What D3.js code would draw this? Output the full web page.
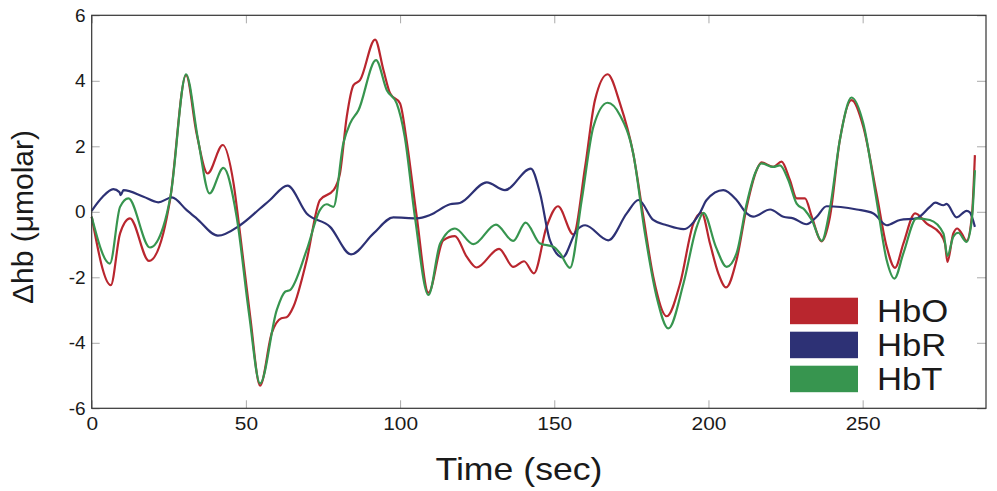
<!DOCTYPE html>
<html>
<head>
<meta charset="utf-8" />
<title>Hemoglobin change</title>
<style>
body { margin: 0; background: #fff; }
svg text { font-family: "Liberation Sans", Arial, sans-serif; fill: #1a1a1a; }
</style>
</head>
<body>
<script src="https://d3js.org/d3.v7.min.js"></script>
<script>
var width = 997,
    height = 491;

// series, [time (sec), value (umolar)]
var hbo = [[0,-0.15],[6.2,-2.24],[9.2,-0.66],[12.4,-0.2],[18.6,-1.5],[23.2,-0.66],[25.4,0.36],[30.6,4.17],[34,2.4],
  [37.6,1.17],[42.5,2.04],[46,0.87],[48.1,-0.66],[51.4,-3.2],[54.6,-5.31],[58.4,-3.7],[61.5,-3.25],[63.2,-3.22],
  [65.4,-2.9],[69.7,-1.48],[74,0.36],[78.4,0.66],[80.5,1.17],[82.7,2.9],[84.9,3.87],[87,4.02],[91.9,5.26],[94.6,4.33],
  [96.8,3.61],[100,3.31],[102.1,2.19],[105.4,-0.15],[109.2,-2.47],[114,-0.87],[117.8,-0.74],[121.6,-1.37],[124.8,-1.7],
  [132.1,-1.13],[136.7,-1.68],[140.2,-1.51],[143.4,-1.88],[147.5,-0.46],[151.2,0.17],[156.2,-0.69],[160,1.37],
  [163.2,3.41],[167.3,4.2],[171.3,3.31],[175.6,1.78],[178.9,-0.15],[182.1,-1.98],[186.5,-3.19],[190.8,-2.19],
  [195.1,-0.36],[197.8,-0.03],[200.5,-0.97],[203.2,-1.88],[205.7,-2.31],[209.1,-1.48],[212.4,0.15],[215.6,1.27],
  [217.2,1.51],[221,1.37],[223.7,1.53],[226.4,0.97],[228.6,0.41],[231.3,0.41],[233.5,-0.15],[236.7,-0.9],[239.4,-0.15],
  [242.6,2.19],[246.4,3.41],[250.2,2.6],[254.5,0.56],[257.8,-1.07],[260.5,-1.71],[263.2,-0.97],[267,-0.05],[270.8,-0.36],
  [275.1,-0.66],[276.7,-0.97],[277.5,-1.53],[279.4,-0.66],[280.7,-0.51],[282.1,-0.66],[283.7,-0.89],[285.4,-0.15],[286.4,1.73]];

var hbr = [[0,0.03],[3.5,0.45],[7,0.69],[9,0.6],[9.4,0.51],[10.3,0.66],[16.8,0.46],[21.6,0.29],[26,0.44],[30.8,0.05],
  [34,-0.2],[40.9,-0.73],[48.1,-0.41],[54.6,0.1],[57.8,0.36],[63.5,0.8],[69.7,-0.05],[77.3,-0.46],[84.1,-1.3],
  [91.4,-0.66],[97.8,-0.17],[105.4,-0.2],[109.7,-0.1],[116.2,0.23],[119.4,0.27],[128.1,0.9],[134,0.66],[142.4,1.32],
  [145.4,0.56],[148.6,-0.87],[152.7,-1.39],[157.3,-0.56],[160,-0.41],[167.5,-0.87],[173.5,-0.05],[177.3,0.36],
  [182.1,-0.25],[186.5,-0.41],[191.9,-0.53],[197.3,-0.02],[199.4,0.36],[204.8,0.66],[209.1,0.36],[212.4,-0.05],
  [214.5,-0.15],[220,0.07],[224.3,-0.15],[227.5,-0.2],[231.8,-0.38],[235.1,-0.15],[238.3,0.17],[248.1,0.07],
  [253.5,-0.05],[257.8,-0.41],[262.1,-0.25],[267.5,-0.2],[271.8,0.15],[273.5,0.28],[276.2,0.2],[277.2,0.24],
  [280.5,-0.17],[283.7,0.03],[284.8,-0.02],[286.4,-0.46]];

var hbt = [[0,-0.15],[5.9,-1.58],[9.2,0.15],[11.9,0.41],[18.9,-1.09],[23.2,-0.46],[25.6,0.5],[30.6,4.2],[34.5,2.2],
  [38.2,0.56],[42.7,1.34],[47,-0.15],[51,-3.1],[54.6,-5.24],[60,-3.0],[62.7,-2.44],[64.3,-2.39],[69.7,-1.17],
  [74,0.05],[76.2,0.23],[78.4,0.15],[81.6,2.09],[83.8,2.7],[86.5,3.1],[92.2,4.63],[95.7,3.71],[98.9,3.31],
  [101.5,2.3],[104.8,-0.15],[109.2,-2.54],[113,-0.97],[117.8,-0.51],[123.8,-0.99],[131.1,-0.39],[136.7,-0.89],
  [140.7,-0.33],[145.4,-0.97],[149.7,-1.07],[151.9,-1.27],[155.1,-1.71],[158.9,0.36],[162.7,2.6],[167.3,3.33],
  [171.3,2.95],[175.6,1.78],[179.4,-0.66],[183.2,-2.6],[187,-3.56],[191.9,-2.19],[196.2,-0.46],[198.4,-0.03],
  [202.4,-1.07],[205.9,-1.68],[209.1,-1.27],[212.4,0.25],[215.1,1.17],[217.2,1.48],[221,1.37],[223.2,1.42],
  [225.9,0.97],[228.6,0.25],[231.3,0.05],[233.5,-0.25],[236.7,-0.89],[239.4,0.1],[242.6,2.19],[246.4,3.49],
  [250.2,2.7],[254.5,0.36],[257.8,-1.48],[260.3,-2.04],[263.2,-1.27],[267.5,-0.2],[271.8,-0.25],[276.2,-0.66],
  [277.5,-1.35],[279.4,-0.76],[281,-0.64],[283.7,-0.92],[285.4,-0.25],[286.4,1.27]];

var seriesNames = ["HbO", "HbR", "HbT"];
var seriesColors = ["#b9262e", "#2d3175", "#37954f"];
var xTicks = [0, 50, 100, 150, 200, 250];
var yTicks = [-6, -4, -2, 0, 2, 4, 6];

var margin = {left: 91.7, top: 15.3, right: width - 986, bottom: height - 408.3};

var x = d3.scaleLinear().domain([0, 290]).range([margin.left, width - margin.right]);
var y = d3.scaleLinear().domain([-6, 6]).range([height - margin.bottom, margin.top]);

var svg = d3.select("body").append("svg")
  .attr("width", width)
  .attr("height", height);

// plain hyphen minus like the original
var fmt = d => String(d);

// source picture is a bit wider than tall, so horizontal text is stretched
function stretch(sel, k) {
  sel.each(function() {
    var t = d3.select(this);
    var tx = +t.attr("x") || 0;
    t.attr("transform", (t.attr("transform") || "") + " translate(" + tx + ",0) scale(" + k + ",1) translate(" + (-tx) + ",0)");
  });
}

// inward gray ticks, all four sides
var tickColor = "#aaa";
svg.append("g").attr("transform", "translate(0," + y(-6) + ")")
  .call(d3.axisBottom(x).tickValues(xTicks).tickSize(-8).tickPadding(8).tickFormat(fmt))
  .call(g => g.select(".domain").remove())
  .call(g => g.selectAll("line").attr("stroke", tickColor))
  .call(g => g.selectAll("text").style("font-size", "19px").attr("fill", "#1a1a1a").call(stretch, 1.1));

svg.append("g").attr("transform", "translate(0," + y(6) + ")")
  .call(d3.axisTop(x).tickValues(xTicks).tickSize(-8).tickFormat(""))
  .call(g => g.select(".domain").remove())
  .call(g => g.selectAll("line").attr("stroke", tickColor));

svg.append("g").attr("transform", "translate(" + x(0) + ",0)")
  .call(d3.axisLeft(y).tickValues(yTicks).tickSize(-8).tickPadding(6).tickFormat(fmt))
  .call(g => g.select(".domain").remove())
  .call(g => g.selectAll("line").attr("stroke", tickColor))
  .call(g => g.selectAll("text").style("font-size", "19px").attr("fill", "#1a1a1a"));

svg.append("g").attr("transform", "translate(" + x(290) + ",0)")
  .call(d3.axisRight(y).tickValues(yTicks).tickSize(-9).tickFormat(""))
  .call(g => g.select(".domain").remove())
  .call(g => g.selectAll("line").attr("stroke", tickColor));

var line = d3.line()
  .x(d => x(d[0]))
  .y(d => y(d[1]))
  .curve(d3.curveMonotoneX);

[hbo, hbr, hbt].forEach(function(s, i) {
  svg.append("path")
    .datum(s)
    .attr("fill", "none")
    .attr("stroke", seriesColors[i])
    .attr("stroke-width", 2.2)
    .attr("stroke-linejoin", "round")
    .attr("d", line);
});

// box
svg.append("rect")
  .attr("x", x(0)).attr("y", y(6))
  .attr("width", x(290) - x(0)).attr("height", y(-6) - y(6))
  .attr("fill", "none").attr("stroke", "#333").attr("stroke-width", 1.2);

// legend
var legend = svg.append("g");
seriesNames.forEach(function(n, i) {
  legend.append("rect")
    .attr("x", 790).attr("y", 297.7 + i * 34)
    .attr("width", 68).attr("height", 26.5)
    .attr("fill", seriesColors[i]);
  legend.append("text")
    .attr("x", 877).attr("y", 322.5 + i * 34)
    .style("font-size", "31px")
    .text(n)
    .call(stretch, 1.12);
});

// axis titles
svg.append("text")
  .attr("x", 519).attr("y", 480)
  .attr("text-anchor", "middle")
  .style("font-size", "31px")
  .text("Time (sec)")
  .call(stretch, 1.15);

svg.append("text")
  .attr("transform", "translate(33,217) rotate(-90)")
  .attr("text-anchor", "middle")
  .style("font-size", "30px")
  .text("Δhb (μmolar)");
</script>
</body>
</html>
